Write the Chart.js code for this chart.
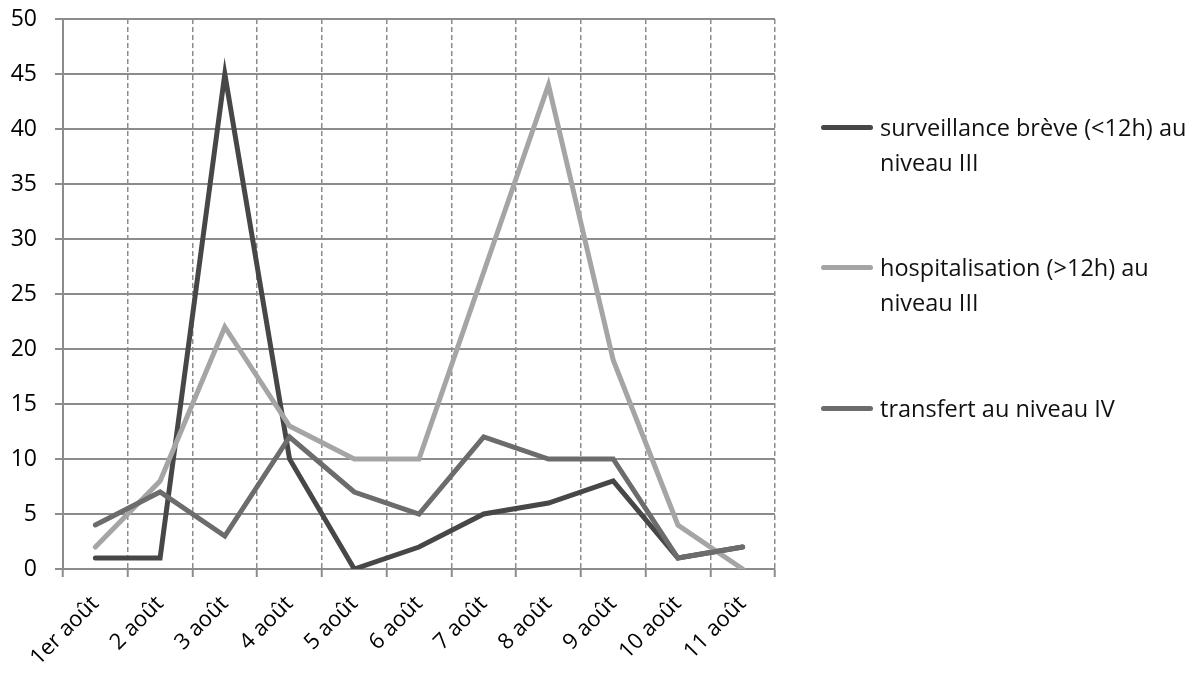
<!DOCTYPE html>
<html>
<head>
<meta charset="utf-8">
<script src="https://cdn.jsdelivr.net/npm/chart.js@4/dist/chart.umd.min.js"></script>
<style>
  body { margin: 0; background: #fff; }
  #wrap { position: relative; width: 1192px; height: 673px; }
  #legend { position: absolute; left: 821px; top: 0; font-family: "Open Sans", sans-serif; font-size: 23.5px; color: #111; }
  .item { position: absolute; left: 0; display: flex; align-items: flex-start; width: 380px; }
  .swatch { width: 52px; height: 5px; border-radius: 3px; margin-top: 15px; margin-right: 7px; flex: none; }
  .txt { width: 318px; line-height: 35px; }
</style>
</head>
<body>
<div id="wrap">
  <canvas id="chart"></canvas>
  <div id="legend"></div>
</div>
<script>
var categories = ['1er août', '2 août', '3 août', '4 août', '5 août', '6 août', '7 août', '8 août', '9 août', '10 août', '11 août'];
var seriesNames = ['surveillance brève (<12h) au niveau III', 'hospitalisation (>12h) au niveau III', 'transfert au niveau IV'];
var surveillance = [1, 1, 45, 10, 0, 2, 5, 6, 8, 1, 2];
var hospitalisation = [2, 8, 22, 13, 10, 10, 27, 44, 19, 4, 0];
var transfert = [4, 7, 3, 12, 7, 5, 12, 10, 10, 1, 2];
var yTicks = [0, 5, 10, 15, 20, 25, 30, 35, 40, 45, 50];

var colors = ['#474747', '#a5a5a5', '#6c6c6c'];
var allSeries = [surveillance, hospitalisation, transfert];

const ctx = document.getElementById('chart');

var datasets = allSeries.map(function (values, i) {
    return {
        label: seriesNames[i],
        data: values,
        borderColor: colors[i],
        backgroundColor: colors[i],
        borderWidth: 5,
        pointRadius: 0,
        tension: 0,
        borderCapStyle: 'round',
        borderJoinStyle: 'miter',
        order: 3 - i   // later series drawn on top, like the original
    };
});

new Chart(ctx, {
    type: 'line',
    data: {
        labels: categories,
        datasets: datasets
    },
    options: {
        responsive: true,
        maintainAspectRatio: false,
        animation: false,
        layout: {
            padding: { left: 0, right: 417, top: 19, bottom: 0 }
        },
        scales: {
            x: {
                offset: true,
                grid: {
                    offset: true,
                    color: '#8c8c8c',
                    lineWidth: 1.5,
                    tickLength: 8,
                    tickColor: '#8c8c8c',
                    tickWidth: 2,
                    tickBorderDash: []
                },
                border: {
                    display: true,
                    color: '#8c8c8c',
                    width: 2,
                    dash: [5, 3]
                },
                ticks: {
                    color: '#000',
                    minRotation: 45,
                    maxRotation: 45,
                    padding: 14,
                    autoSkip: false,
                    font: { family: 'Open Sans', size: 22 }
                },
                afterFit: function (scale) { scale.height = 104; }
            },
            y: {
                min: 0,
                max: 50,
                afterBuildTicks: function (scale) {
                    scale.ticks = yTicks.map(function (v) { return { value: v }; });
                },
                grid: {
                    color: '#8c8c8c',
                    lineWidth: 2,
                    tickLength: 8,
                    tickColor: '#8c8c8c'
                },
                border: {
                    display: true,
                    color: '#8c8c8c',
                    width: 2
                },
                ticks: {
                    color: '#000',
                    padding: 18,
                    font: { family: 'Open Sans', size: 23 }
                },
                afterFit: function (scale) {
                    scale.width = 63;
                    // the big label padding should not push the plot down
                    scale.paddingTop = 0;
                    scale.paddingBottom = 0;
                }
            }
        },
        plugins: {
            legend: { display: false },
            tooltip: { enabled: false }
        }
    }
});

// html legend, right of the plot
var legendTops = [110, 250, 391];
var legendEl = document.getElementById('legend');
seriesNames.forEach(function (name, i) {
    var item = document.createElement('div');
    item.className = 'item';
    item.style.top = legendTops[i] + 'px';
    var sw = document.createElement('div');
    sw.className = 'swatch';
    sw.style.background = colors[i];
    var txt = document.createElement('div');
    txt.className = 'txt';
    txt.textContent = name;
    item.appendChild(sw);
    item.appendChild(txt);
    legendEl.appendChild(item);
});
</script>
</body>
</html>
